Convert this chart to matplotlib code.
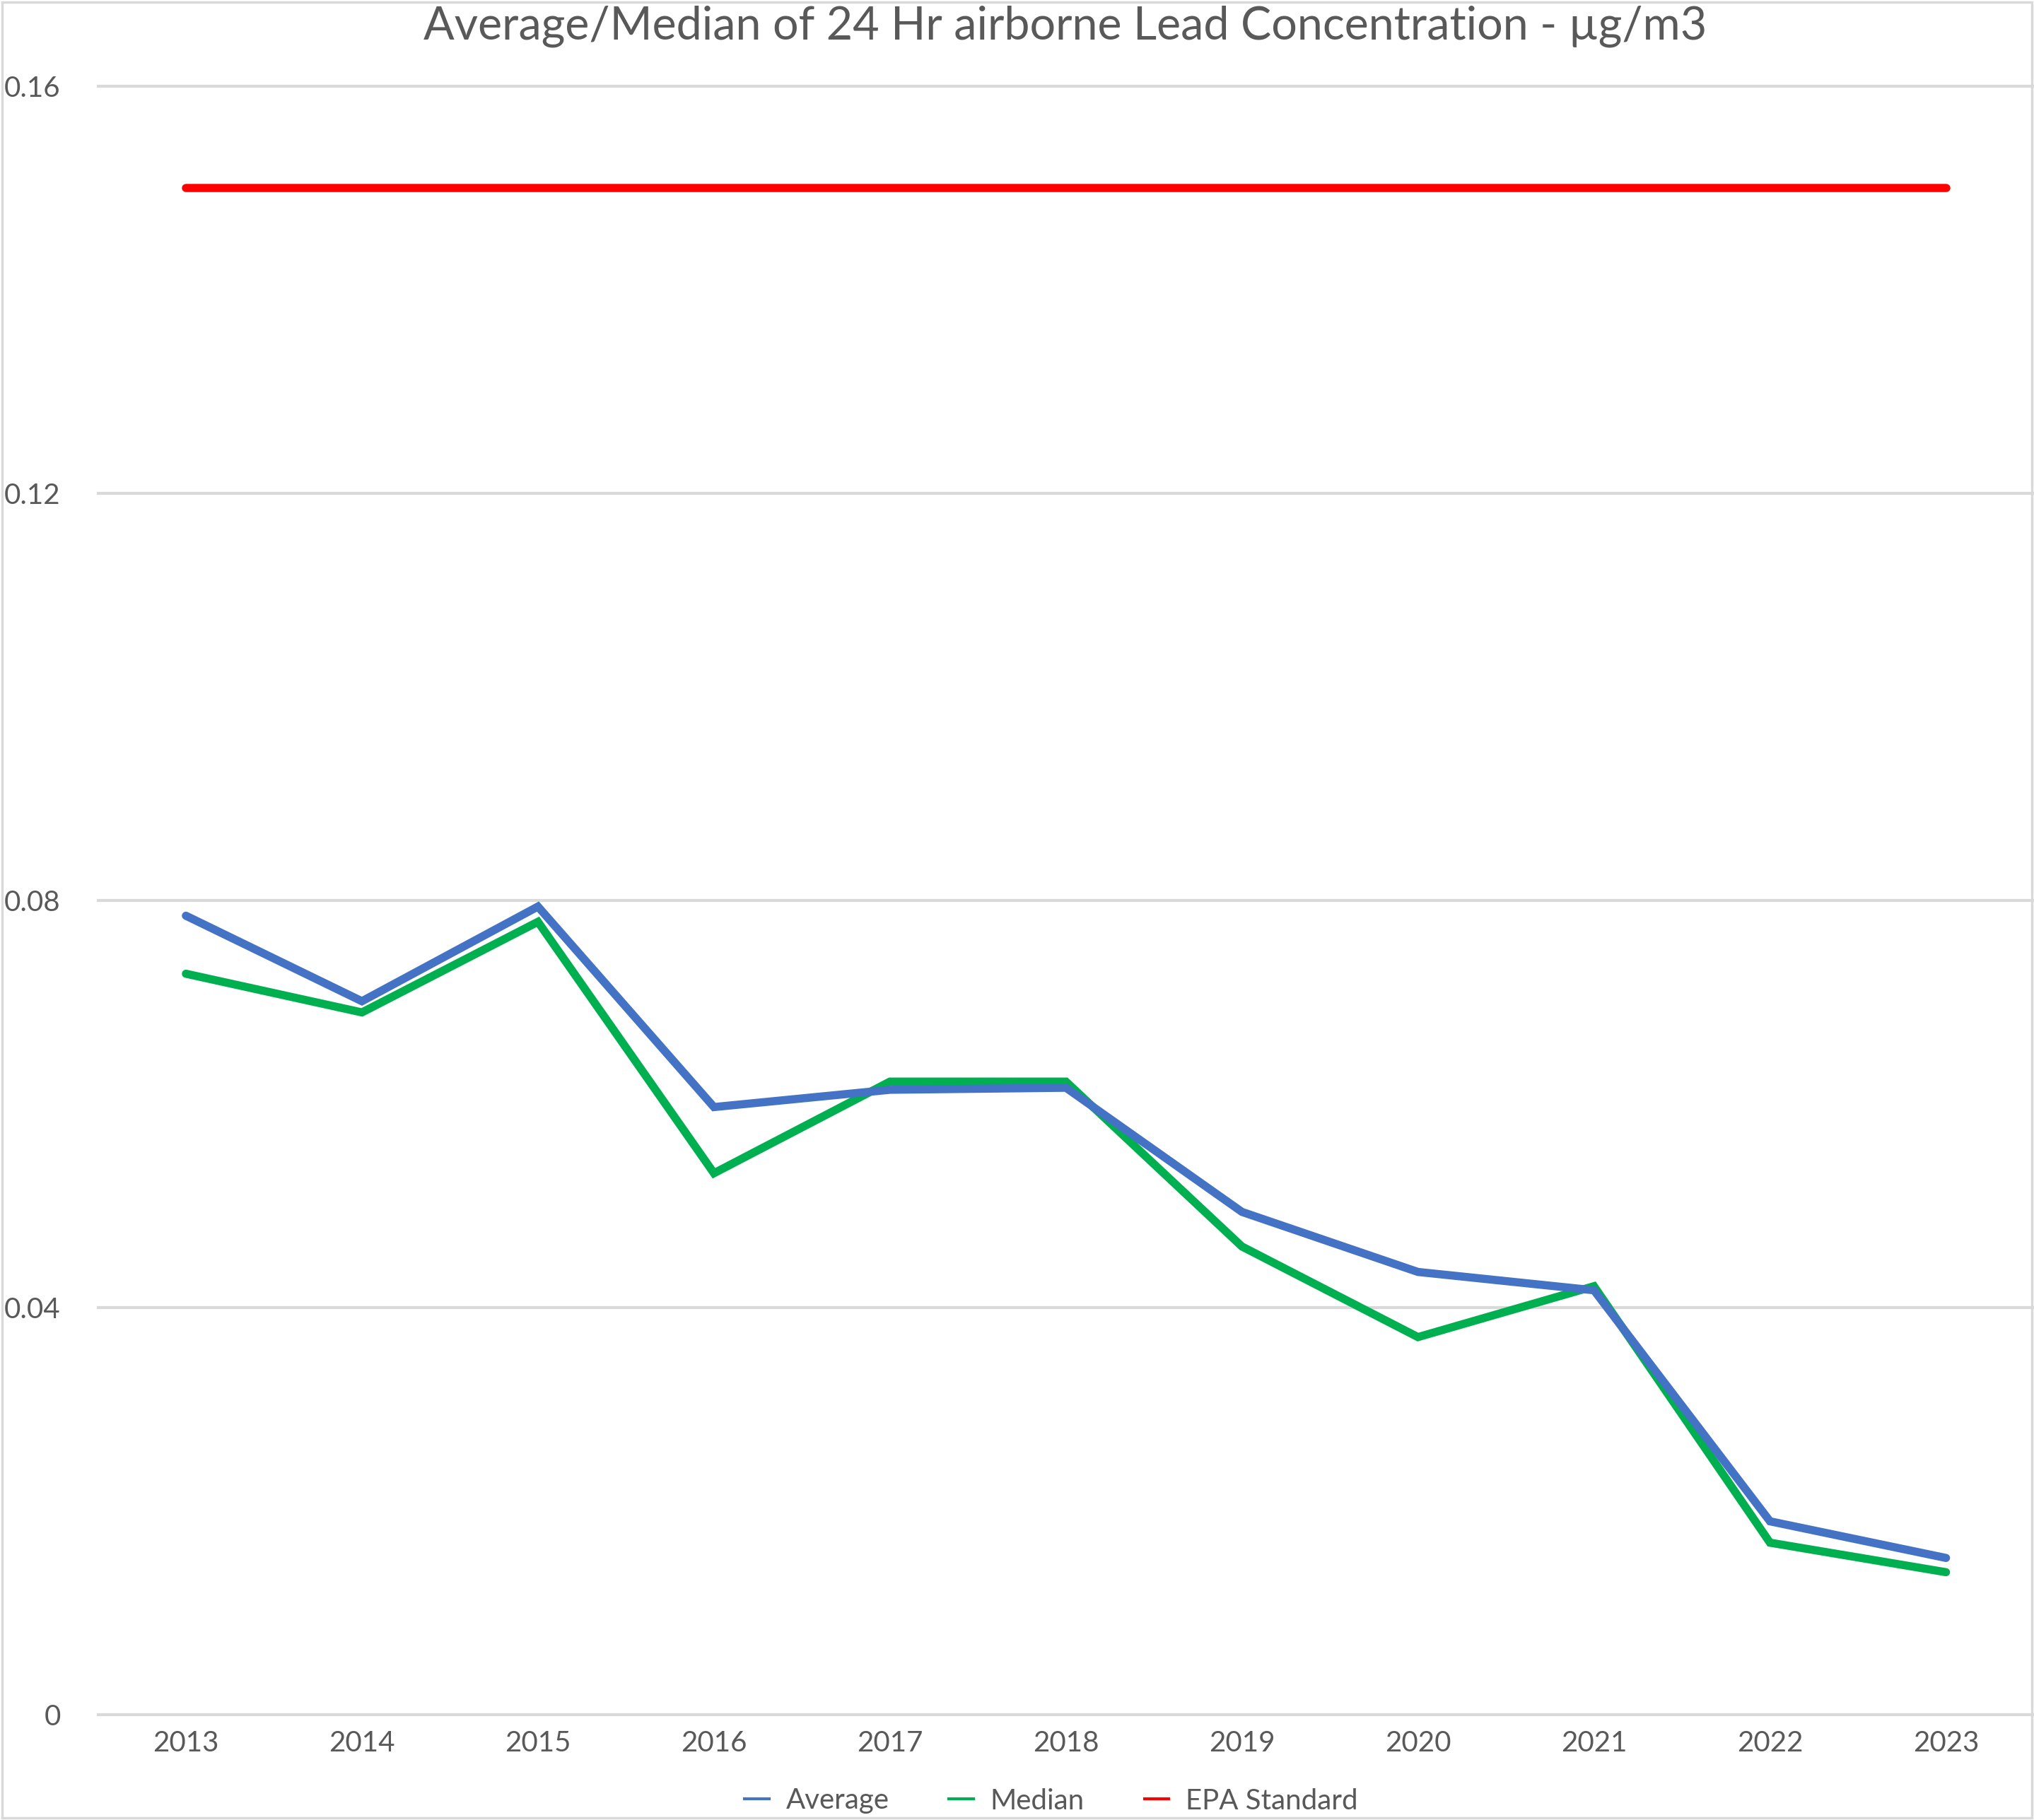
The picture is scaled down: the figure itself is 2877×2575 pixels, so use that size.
import matplotlib
matplotlib.use("Agg")
import matplotlib.pyplot as plt
from matplotlib.lines import Line2D
from matplotlib.patches import Rectangle

years = ["2013", "2014", "2015", "2016", "2017", "2018", "2019", "2020", "2021", "2022", "2023"]
average = [0.0785, 0.0701, 0.0794, 0.0597, 0.0614, 0.0616, 0.0494, 0.0435, 0.0417, 0.0190, 0.0154]
median = [0.0728, 0.0690, 0.0779, 0.0532, 0.0622, 0.0622, 0.0460, 0.0371, 0.0421, 0.0169, 0.0140]
epa_standard = [0.15] * len(years)
y_ticks = [0, 0.04, 0.08, 0.12, 0.16]
y_tick_labels = ["0", "0.04", "0.08", "0.12", "0.16"]
title = "Average/Median of 24 Hr airborne Lead Concentration - µg/m3"
series_names = ["Average", "Median", "EPA Standard"]

BLUE = "#4472C4"
GREEN = "#00B050"
RED = "#FF0000"
GRID = "#D9D9D9"
TEXT = "#595959"

plt.rcParams['font.family'] = ['Lato', 'DejaVu Sans']

W, H = 2877, 2575
fig = plt.figure(figsize=(W / 100, H / 100), dpi=100)
ax = fig.add_axes([138.5 / W, 149 / H, (W - 138.5) / W, (2426 - 122) / H])

x = list(range(len(years)))
lw = 8.3
ax.plot(x, epa_standard, color=RED, lw=lw, solid_capstyle='round', solid_joinstyle='round', zorder=3)
ax.plot(x, median, color=GREEN, lw=lw, solid_capstyle='round', solid_joinstyle='miter', zorder=4)
ax.plot(x, average, color=BLUE, lw=lw, solid_capstyle='round', solid_joinstyle='miter', zorder=5)

ax.set_xlim(-0.5, len(years) - 0.5)
ax.set_ylim(0, 0.16)
ax.set_yticks(y_ticks)
ax.set_yticklabels(y_tick_labels)
ax.set_xticks(x)
ax.set_xticklabels(years)
ax.tick_params(axis='both', length=0, labelsize=29, labelcolor=TEXT)
ax.tick_params(axis='y', pad=38)
ax.tick_params(axis='x', pad=16)
for s in ax.spines.values():
    s.set_visible(False)
ax.yaxis.grid(True, color=GRID, lw=3)
ax.xaxis.grid(False)
ax.set_axisbelow(True)
for gl in ax.get_ygridlines():
    gl.set_clip_on(False)

fig.text(1507 / W, 1 - 37 / H, title, ha='center', va='center', fontsize=46.5, color=TEXT)

handles = [Line2D([], [], color=c, lw=3) for c in (BLUE, GREEN, RED)]
fig.legend(handles, series_names, loc='center', bbox_to_anchor=(1487 / W, 27 / H),
           ncol=3, frameon=False, fontsize=29, labelcolor=TEXT,
           handlelength=0.85, handletextpad=0.6, columnspacing=2.1)

fig.patches.append(Rectangle((0.001, 0.001), 0.998, 0.998, transform=fig.transFigure,
                             fill=False, edgecolor=GRID, lw=2.5))

fig.savefig("out.png", dpi=100, facecolor="white")
